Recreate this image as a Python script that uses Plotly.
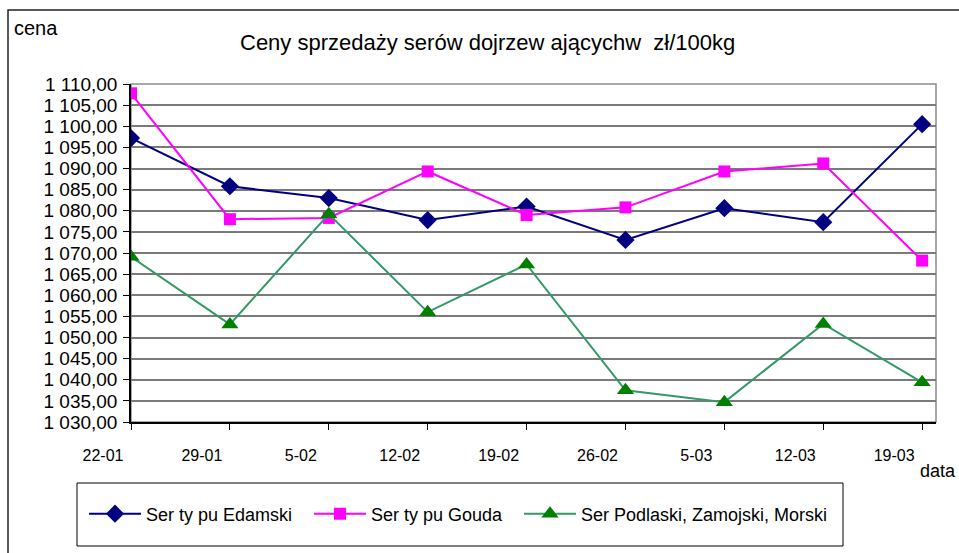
import plotly.graph_objects as go

dates = ["22-01", "29-01", "5-02", "12-02", "19-02", "26-02", "5-03", "12-03", "19-03"]
edamski = [1097.2, 1085.8, 1083.0, 1077.8, 1081.0, 1073.1, 1080.6, 1077.3, 1100.5]
gouda = [1107.8, 1078.0, 1078.3, 1089.3, 1079.0, 1080.8, 1089.3, 1091.2, 1068.2]
podlaski = [1069.1, 1053.1, 1079.2, 1056.0, 1067.3, 1037.5, 1034.7, 1053.2, 1039.4]

names = ["Ser ty pu Edamski", "Ser ty pu Gouda", "Ser Podlaski, Zamojski, Morski"]
title_text = "Ceny sprzedaży serów dojrzew ającychw  zł/100kg"
y_ticks = [1030 + 5 * i for i in range(17)]

W, H = 959, 553
L, R, T, B = 131, 936, 84, 422


def px(x):
    return (x - L) / (R - L)


def py(y):
    return (B - y) / (B - T)


FONT = "Liberation Sans, Arial, sans-serif"

fig = go.Figure()
fig.add_trace(go.Scatter(
    x=dates, y=edamski, name=names[0], mode="lines+markers", legend="legend",
    line=dict(color="#000080", width=2),
    marker=dict(symbol="diamond", size=14, color="#000080")))
fig.add_trace(go.Scatter(
    x=dates, y=gouda, name=names[1], mode="lines+markers", legend="legend2",
    line=dict(color="#FF00FF", width=2),
    marker=dict(symbol="square", size=12, color="#FF00FF")))
fig.add_trace(go.Scatter(
    x=dates, y=podlaski, name=names[2], mode="lines+markers", legend="legend3",
    line=dict(color="#339966", width=2),
    marker=dict(symbol="triangle-up", size=15, color="#008000")))


def leg(x):
    return dict(orientation="h", x=px(x), xanchor="left", y=py(514), yanchor="middle",
                font=dict(size=18, family=FONT), bgcolor="rgba(0,0,0,0)",
                borderwidth=0, itemwidth=52)


fig.update_layout(
    width=W, height=H,
    margin=dict(l=L, r=W - R, t=T, b=H - B, pad=0, autoexpand=False),
    paper_bgcolor="white", plot_bgcolor="white",
    separators=", ",
    font=dict(family=FONT, color="black"),
    showlegend=True,
    legend=leg(84), legend2=leg(309), legend3=leg(519),
    xaxis=dict(type="category", range=[0, 8.14], showgrid=False,
               showline=True, linecolor="black", linewidth=1.5,
               ticks="outside", ticklen=6, tickcolor="black", tickwidth=1,
               tickfont=dict(size=16, family=FONT), ticklabelshift=-28,
               ticklabelstandoff=12, zeroline=False),
    yaxis=dict(range=[1030, 1110], tickvals=y_ticks, tickformat=",.2f",
               showgrid=True, gridcolor="#7a7a7a", gridwidth=1.5,
               showline=True, linecolor="black", linewidth=1.5,
               ticks="outside", ticklen=6, tickcolor="black", tickwidth=1,
               tickfont=dict(size=19, family=FONT), ticklabelstandoff=2,
               zeroline=False),
    shapes=[
        dict(type="rect", xref="paper", yref="paper", x0=0, x1=1, y0=0, y1=1,
             line=dict(color="#8c8c8c", width=1.5), layer="below"),
        dict(type="rect", xref="paper", yref="paper", x0=px(8), x1=px(1200),
             y0=py(700), y1=py(10), line=dict(color="#222222", width=1.5)),
        dict(type="rect", xref="paper", yref="paper", x0=px(77), x1=px(843),
             y0=py(546), y1=py(483), line=dict(color="black", width=1)),
    ],
    annotations=[
        dict(text=title_text, xref="paper", yref="paper", x=px(487), y=py(42),
             xanchor="center", yanchor="middle", showarrow=False,
             font=dict(size=22, family=FONT)),
        dict(text="cena", xref="paper", yref="paper", x=px(12), y=py(28),
             xanchor="left", yanchor="middle", showarrow=False,
             font=dict(size=20, family=FONT)),
        dict(text="data", xref="paper", yref="paper", x=px(958), y=py(471),
             xanchor="right", yanchor="middle", showarrow=False,
             font=dict(size=18, family=FONT)),
    ],
)

fig.write_html("out.html", config={"displayModeBar": False},
               post_script="document.body.style.margin='0';")
